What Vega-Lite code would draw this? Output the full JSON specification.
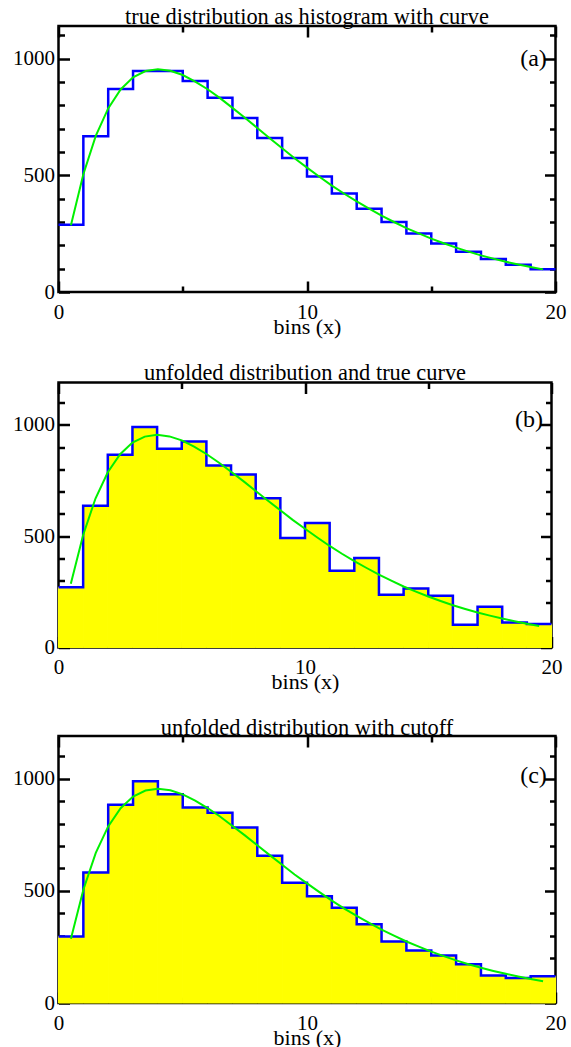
{
  "$schema": "https://vega.github.io/schema/vega-lite/v6.json",
  "background": "white",
  "padding": {"left": 10.5, "top": 5, "right": 10, "bottom": 0},
  "spacing": 21.5,
  "config": {
    "font": "Liberation Serif",
    "view": {"stroke": "black", "strokeWidth": 2.5},
    "axis": {
      "grid": false,
      "domain": false,
      "tickColor": "black",
      "tickWidth": 2.5,
      "labelFont": "Liberation Serif",
      "labelFontSize": 21,
      "labelColor": "black",
      "titleFont": "Liberation Serif",
      "titleFontSize": 22,
      "titleFontWeight": "normal",
      "titleColor": "black"
    },
    "title": {"font": "Liberation Serif", "fontSize": 22.4, "fontWeight": "normal", "color": "black", "anchor": "middle", "frame": "group", "baseline": "alphabetic"}
  },
  "datasets": {
    "curve": [
      {"x": 0.5, "y": 286}, {"x": 1.0, "y": 505}, {"x": 1.5, "y": 669}, {"x": 2.0, "y": 787},
      {"x": 2.5, "y": 868}, {"x": 3.0, "y": 920}, {"x": 3.5, "y": 947}, {"x": 4.0, "y": 955},
      {"x": 4.5, "y": 948}, {"x": 5.0, "y": 930}, {"x": 5.5, "y": 902}, {"x": 6.0, "y": 869},
      {"x": 6.5, "y": 831}, {"x": 7.0, "y": 789}, {"x": 7.5, "y": 747}, {"x": 8.0, "y": 703},
      {"x": 8.5, "y": 659}, {"x": 9.0, "y": 616}, {"x": 9.5, "y": 573}, {"x": 10.0, "y": 533},
      {"x": 10.5, "y": 494}, {"x": 11.0, "y": 456}, {"x": 11.5, "y": 421}, {"x": 12.0, "y": 388},
      {"x": 12.5, "y": 357}, {"x": 13.0, "y": 327}, {"x": 13.5, "y": 300}, {"x": 14.0, "y": 274},
      {"x": 14.5, "y": 251}, {"x": 15.0, "y": 229}, {"x": 15.5, "y": 209}, {"x": 16.0, "y": 190},
      {"x": 16.5, "y": 173}, {"x": 17.0, "y": 157}, {"x": 17.5, "y": 143}, {"x": 18.0, "y": 130},
      {"x": 18.5, "y": 118}, {"x": 19.0, "y": 107}, {"x": 19.5, "y": 97}
    ],
    "histA": [
      {"lo": 0, "hi": 1, "n": 288}, {"lo": 1, "hi": 2, "n": 668}, {"lo": 2, "hi": 3, "n": 870},
      {"lo": 3, "hi": 4, "n": 947}, {"lo": 4, "hi": 5, "n": 947}, {"lo": 5, "hi": 6, "n": 904},
      {"lo": 6, "hi": 7, "n": 832}, {"lo": 7, "hi": 8, "n": 746}, {"lo": 8, "hi": 9, "n": 660},
      {"lo": 9, "hi": 10, "n": 574}, {"lo": 10, "hi": 11, "n": 495}, {"lo": 11, "hi": 12, "n": 422},
      {"lo": 12, "hi": 13, "n": 357}, {"lo": 13, "hi": 14, "n": 300}, {"lo": 14, "hi": 15, "n": 251},
      {"lo": 15, "hi": 16, "n": 208}, {"lo": 16, "hi": 17, "n": 172}, {"lo": 17, "hi": 18, "n": 141},
      {"lo": 18, "hi": 19, "n": 117}, {"lo": 19, "hi": 20, "n": 97}
    ],
    "histB": [
      {"lo": 0, "hi": 1, "n": 270}, {"lo": 1, "hi": 2, "n": 637}, {"lo": 2, "hi": 3, "n": 865},
      {"lo": 3, "hi": 4, "n": 990}, {"lo": 4, "hi": 5, "n": 892}, {"lo": 5, "hi": 6, "n": 925},
      {"lo": 6, "hi": 7, "n": 817}, {"lo": 7, "hi": 8, "n": 777}, {"lo": 8, "hi": 9, "n": 670},
      {"lo": 9, "hi": 10, "n": 492}, {"lo": 10, "hi": 11, "n": 559}, {"lo": 11, "hi": 12, "n": 345},
      {"lo": 12, "hi": 13, "n": 402}, {"lo": 13, "hi": 14, "n": 237}, {"lo": 14, "hi": 15, "n": 265},
      {"lo": 15, "hi": 16, "n": 232}, {"lo": 16, "hi": 17, "n": 102}, {"lo": 17, "hi": 18, "n": 183},
      {"lo": 18, "hi": 19, "n": 112}, {"lo": 19, "hi": 20, "n": 105}
    ],
    "histC": [
      {"lo": 0, "hi": 1, "n": 296}, {"lo": 1, "hi": 2, "n": 582}, {"lo": 2, "hi": 3, "n": 884},
      {"lo": 3, "hi": 4, "n": 988}, {"lo": 4, "hi": 5, "n": 930}, {"lo": 5, "hi": 6, "n": 871},
      {"lo": 6, "hi": 7, "n": 848}, {"lo": 7, "hi": 8, "n": 782}, {"lo": 8, "hi": 9, "n": 656},
      {"lo": 9, "hi": 10, "n": 536}, {"lo": 10, "hi": 11, "n": 476}, {"lo": 11, "hi": 12, "n": 425},
      {"lo": 12, "hi": 13, "n": 351}, {"lo": 13, "hi": 14, "n": 274}, {"lo": 14, "hi": 15, "n": 234},
      {"lo": 15, "hi": 16, "n": 212}, {"lo": 16, "hi": 17, "n": 173}, {"lo": 17, "hi": 18, "n": 123},
      {"lo": 18, "hi": 19, "n": 111}, {"lo": 19, "hi": 20, "n": 119}
    ],
    "labA": [{"x": 19.65, "y": 1000, "t": "(a)"}],
    "labB": [{"x": 19.65, "y": 1020, "t": "(b)"}],
    "labC": [{"x": 19.65, "y": 1010, "t": "(c)"}]
  },
  "vconcat": [
    {
      "title": {"text": "true distribution as histogram with curve", "offset": -4},
      "width": 497,
      "height": 266,
      "layer": [
        {
          "data": {"name": "histA"},
          "transform": [{"fold": ["lo", "hi"], "as": ["k", "edge"]}],
          "mark": {"type": "line", "color": "#0000ff", "strokeWidth": 2.5},
          "encoding": {
            "x": {"field": "edge", "type": "quantitative", "scale": {"domain": [0, 20], "nice": false, "zero": false},
              "axis": {"orient": "bottom", "values": [0, 5, 10, 15, 20], "format": "d", "title": "bins (x)", "labelExpr": "datum.value % 10 === 0 ? datum.label : ''",
                "tickSize": {"condition": {"test": "datum.value % 10 === 0", "value": -11}, "value": -6}, "labelPadding": 20, "titlePadding": -6, "labelFlush": false}},
            "y": {"field": "n", "type": "quantitative", "scale": {"domain": [0, 1140], "nice": false},
              "axis": {"orient": "left", "values": [0, 100, 200, 300, 400, 500, 600, 700, 800, 900, 1000, 1100], "format": "d", "title": null, "labelExpr": "datum.value % 500 === 0 ? datum.label : ''",
                "tickSize": {"condition": {"test": "datum.value % 500 === 0", "value": -11}, "value": -6}, "labelPadding": 15, "labelFlush": false}},
            "order": [{"field": "edge", "type": "quantitative"}, {"field": "k", "type": "nominal", "sort": "ascending"}]
          }
        },
        {
          "data": {"name": "curve"},
          "mark": {"type": "line", "color": "#00f000", "strokeWidth": 2},
          "encoding": {
            "x": {"field": "x", "type": "quantitative",
              "axis": {"orient": "top", "values": [0, 5, 10, 15, 20], "title": null, "labels": false,
                "tickSize": {"condition": {"test": "datum.value % 10 === 0", "value": -11}, "value": -6}}},
            "y": {"field": "y", "type": "quantitative",
              "axis": {"orient": "right", "values": [0, 100, 200, 300, 400, 500, 600, 700, 800, 900, 1000, 1100], "title": null, "labels": false,
                "tickSize": {"condition": {"test": "datum.value % 500 === 0", "value": -11}, "value": -6}}}
          }
        },
        {
          "data": {"name": "labA"},
          "mark": {"type": "text", "align": "right", "baseline": "middle", "fontSize": 24, "font": "Liberation Serif", "color": "black"},
          "encoding": {
            "x": {"field": "x", "type": "quantitative", "axis": null},
            "y": {"field": "y", "type": "quantitative", "axis": null},
            "text": {"field": "t"}
          }
        }
      ],
      "resolve": {"axis": {"x": "independent", "y": "independent"}}
    },
    {
      "title": {"text": "unfolded distribution and true curve", "offset": -3.5},
      "width": 493,
      "height": 265,
      "layer": [
        {
          "data": {"name": "histB"},
          "mark": {"type": "rect", "color": "#ffff00", "stroke": "#ffff00", "strokeWidth": 1},
          "encoding": {
            "x": {"field": "lo", "type": "quantitative", "scale": {"domain": [0, 20], "nice": false, "zero": false}, "axis": null},
            "x2": {"field": "hi"},
            "y": {"field": "n", "type": "quantitative", "scale": {"domain": [0, 1190], "nice": false}, "axis": null},
            "y2": {"datum": 0}
          }
        },
        {
          "data": {"name": "histB"},
          "transform": [{"fold": ["lo", "hi"], "as": ["k", "edge"]}],
          "mark": {"type": "line", "color": "#0000ff", "strokeWidth": 2.5},
          "encoding": {
            "x": {"field": "edge", "type": "quantitative",
              "axis": {"orient": "bottom", "values": [0, 5, 10, 15, 20], "format": "d", "title": "bins (x)", "labelExpr": "datum.value % 10 === 0 ? datum.label : ''",
                "tickSize": {"condition": {"test": "datum.value % 10 === 0", "value": -11}, "value": -6}, "labelPadding": 20, "titlePadding": -6, "labelFlush": false}},
            "y": {"field": "n", "type": "quantitative",
              "axis": {"orient": "left", "values": [0, 100, 200, 300, 400, 500, 600, 700, 800, 900, 1000, 1100], "format": "d", "title": null, "labelExpr": "datum.value % 500 === 0 ? datum.label : ''",
                "tickSize": {"condition": {"test": "datum.value % 500 === 0", "value": -11}, "value": -6}, "labelPadding": 15, "labelFlush": false}},
            "order": [{"field": "edge", "type": "quantitative"}, {"field": "k", "type": "nominal", "sort": "ascending"}]
          }
        },
        {
          "data": {"name": "curve"},
          "mark": {"type": "line", "color": "#00f000", "strokeWidth": 2},
          "encoding": {
            "x": {"field": "x", "type": "quantitative",
              "axis": {"orient": "top", "values": [0, 5, 10, 15, 20], "title": null, "labels": false,
                "tickSize": {"condition": {"test": "datum.value % 10 === 0", "value": -11}, "value": -6}}},
            "y": {"field": "y", "type": "quantitative",
              "axis": {"orient": "right", "values": [0, 100, 200, 300, 400, 500, 600, 700, 800, 900, 1000, 1100], "title": null, "labels": false,
                "tickSize": {"condition": {"test": "datum.value % 500 === 0", "value": -11}, "value": -6}}}
          }
        },
        {
          "data": {"name": "labB"},
          "mark": {"type": "text", "align": "right", "baseline": "middle", "fontSize": 24, "font": "Liberation Serif", "color": "black"},
          "encoding": {
            "x": {"field": "x", "type": "quantitative", "axis": null},
            "y": {"field": "y", "type": "quantitative", "axis": null},
            "text": {"field": "t"}
          }
        }
      ],
      "resolve": {"axis": {"x": "independent", "y": "independent"}}
    },
    {
      "title": {"text": "unfolded distribution with cutoff", "offset": -5},
      "width": 497,
      "height": 267,
      "layer": [
        {
          "data": {"name": "histC"},
          "mark": {"type": "rect", "color": "#ffff00", "stroke": "#ffff00", "strokeWidth": 1},
          "encoding": {
            "x": {"field": "lo", "type": "quantitative", "scale": {"domain": [0, 20], "nice": false, "zero": false}, "axis": null},
            "x2": {"field": "hi"},
            "y": {"field": "n", "type": "quantitative", "scale": {"domain": [0, 1190], "nice": false}, "axis": null},
            "y2": {"datum": 0}
          }
        },
        {
          "data": {"name": "histC"},
          "transform": [{"fold": ["lo", "hi"], "as": ["k", "edge"]}],
          "mark": {"type": "line", "color": "#0000ff", "strokeWidth": 2.5},
          "encoding": {
            "x": {"field": "edge", "type": "quantitative",
              "axis": {"orient": "bottom", "values": [0, 5, 10, 15, 20], "format": "d", "title": "bins (x)", "labelExpr": "datum.value % 10 === 0 ? datum.label : ''",
                "tickSize": {"condition": {"test": "datum.value % 10 === 0", "value": -11}, "value": -6}, "labelPadding": 20, "titlePadding": -6, "labelFlush": false}},
            "y": {"field": "n", "type": "quantitative",
              "axis": {"orient": "left", "values": [0, 100, 200, 300, 400, 500, 600, 700, 800, 900, 1000, 1100], "format": "d", "title": null, "labelExpr": "datum.value % 500 === 0 ? datum.label : ''",
                "tickSize": {"condition": {"test": "datum.value % 500 === 0", "value": -11}, "value": -6}, "labelPadding": 15, "labelFlush": false}},
            "order": [{"field": "edge", "type": "quantitative"}, {"field": "k", "type": "nominal", "sort": "ascending"}]
          }
        },
        {
          "data": {"name": "curve"},
          "mark": {"type": "line", "color": "#00f000", "strokeWidth": 2},
          "encoding": {
            "x": {"field": "x", "type": "quantitative",
              "axis": {"orient": "top", "values": [0, 5, 10, 15, 20], "title": null, "labels": false,
                "tickSize": {"condition": {"test": "datum.value % 10 === 0", "value": -11}, "value": -6}}},
            "y": {"field": "y", "type": "quantitative",
              "axis": {"orient": "right", "values": [0, 100, 200, 300, 400, 500, 600, 700, 800, 900, 1000, 1100], "title": null, "labels": false,
                "tickSize": {"condition": {"test": "datum.value % 500 === 0", "value": -11}, "value": -6}}}
          }
        },
        {
          "data": {"name": "labC"},
          "mark": {"type": "text", "align": "right", "baseline": "middle", "fontSize": 24, "font": "Liberation Serif", "color": "black"},
          "encoding": {
            "x": {"field": "x", "type": "quantitative", "axis": null},
            "y": {"field": "y", "type": "quantitative", "axis": null},
            "text": {"field": "t"}
          }
        }
      ],
      "resolve": {"axis": {"x": "independent", "y": "independent"}}
    }
  ]
}
